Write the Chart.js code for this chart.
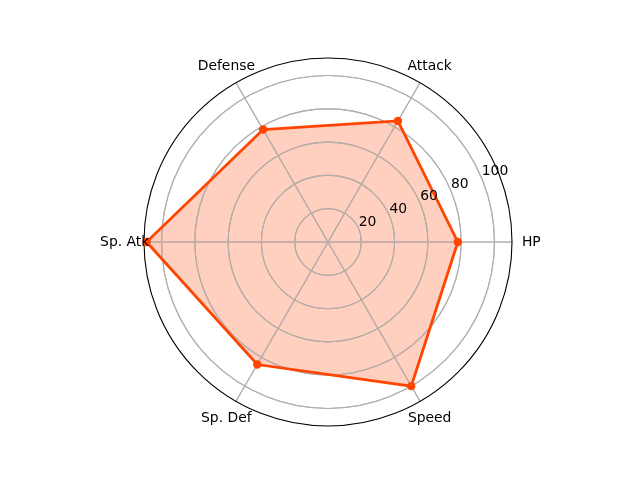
<!DOCTYPE html>
<html>
<head>
<meta charset="utf-8">
<script src="https://cdn.jsdelivr.net/npm/chart.js@4/dist/chart.umd.min.js"></script>
<style>
  html, body { margin: 0; padding: 0; background: #ffffff; }
  #wrap { width: 640px; height: 480px; }
</style>
</head>
<body>
<div id="wrap"><canvas id="c" width="640" height="480"></canvas></div>
<script>
// ---- data ----
const categories = ['HP', 'Attack', 'Defense', 'Sp. Atk', 'Sp. Def', 'Speed'];
const stats = [78, 84, 78, 109, 85, 100];
const radialTicks = [20, 40, 60, 80, 100];
const rMin = 0;
const rMax = 110.55;

// matplotlib goes counter-clockwise from 3 o'clock; Chart.js goes clockwise,
// so feed the categories in reverse order starting from HP.
const order = [0, 5, 4, 3, 2, 1];
const labels = order.map(i => categories[i]);
const values = order.map(i => stats[i]);

const FONT = '13.9px "DejaVu Sans", sans-serif';
const GRID = '#b0b0b0';

// Chart.js draws the last dataset first: index 1 = fill (bottom), index 0 = line (top)
const overlay = {
  id: 'overlay',
  afterDatasetDraw(chart, args) {
    const s = chart.scales.r;
    const ctx = chart.ctx;
    if (args.index === 1) {
      // grid above the translucent fill (as in matplotlib)
      ctx.save();
      ctx.strokeStyle = GRID;
      ctx.lineWidth = 1.1;
      radialTicks.forEach(v => {
        const d = s.getDistanceFromCenterForValue(v);
        ctx.beginPath();
        ctx.arc(s.xCenter, s.yCenter, d, 0, Math.PI * 2);
        ctx.stroke();
      });
      const dOut = s.getDistanceFromCenterForValue(rMax);
      for (let i = 0; i < labels.length; i++) {
        const p = s.getPointPosition(i, dOut);
        ctx.beginPath();
        ctx.moveTo(s.xCenter, s.yCenter);
        ctx.lineTo(p.x, p.y);
        ctx.stroke();
      }
      // outer spine
      ctx.strokeStyle = '#000000';
      ctx.beginPath();
      ctx.arc(s.xCenter, s.yCenter, dOut, 0, Math.PI * 2);
      ctx.stroke();
      ctx.restore();
    }
  },
  afterDatasetsDraw(chart) {
    const s = chart.scales.r;
    const ctx = chart.ctx;
    ctx.save();
    ctx.font = FONT;
    ctx.fillStyle = '#000000';
    // radial tick labels at 22.5 degrees
    const a = -22.5 * Math.PI / 180;
    ctx.textAlign = 'left';
    ctx.textBaseline = 'bottom';
    radialTicks.forEach(v => {
      const d = s.getDistanceFromCenterForValue(v);
      ctx.fillText(String(v), s.xCenter + Math.cos(a) * d, s.yCenter + Math.sin(a) * d);
    });
    // category labels, centred just outside the spine
    ctx.textAlign = 'center';
    ctx.textBaseline = 'middle';
    const dl = s.getDistanceFromCenterForValue(rMax) * 1.105;
    labels.forEach((t, i) => {
      const p = s.getPointPosition(i, dl);
      ctx.fillText(t, p.x, p.y);
    });
    ctx.restore();
  }
};

new Chart(document.getElementById('c'), {
  type: 'radar',
  data: {
    labels: labels,
    datasets: [
      {
        data: values,
        fill: false,
        borderColor: '#ff4500',
        borderWidth: 2.8,
        pointStyle: 'circle',
        pointRadius: 3.6,
        pointBackgroundColor: '#ff4500',
        pointBorderColor: '#ff4500',
        pointBorderWidth: 1.2,
        tension: 0
      },
      {
        data: values,
        fill: true,
        backgroundColor: 'rgba(255,69,0,0.25)',
        borderWidth: 0,
        borderColor: 'rgba(0,0,0,0)',
        pointRadius: 0,
        tension: 0
      }
    ]
  },
  options: {
    responsive: false,
    animation: false,
    events: [],
    layout: { padding: { left: 144, right: 128, top: 58, bottom: 54 } },
    plugins: { legend: { display: false }, tooltip: { enabled: false } },
    scales: {
      r: {
        min: rMin,
        max: rMax,
        startAngle: 90,
        ticks: { display: false, stepSize: 20, includeBounds: false },
        pointLabels: { display: false },
        grid: { circular: true, color: GRID, lineWidth: 1.1 },
        angleLines: { color: GRID, lineWidth: 1.1 }
      }
    }
  },
  plugins: [overlay]
});
</script>
</body>
</html>
